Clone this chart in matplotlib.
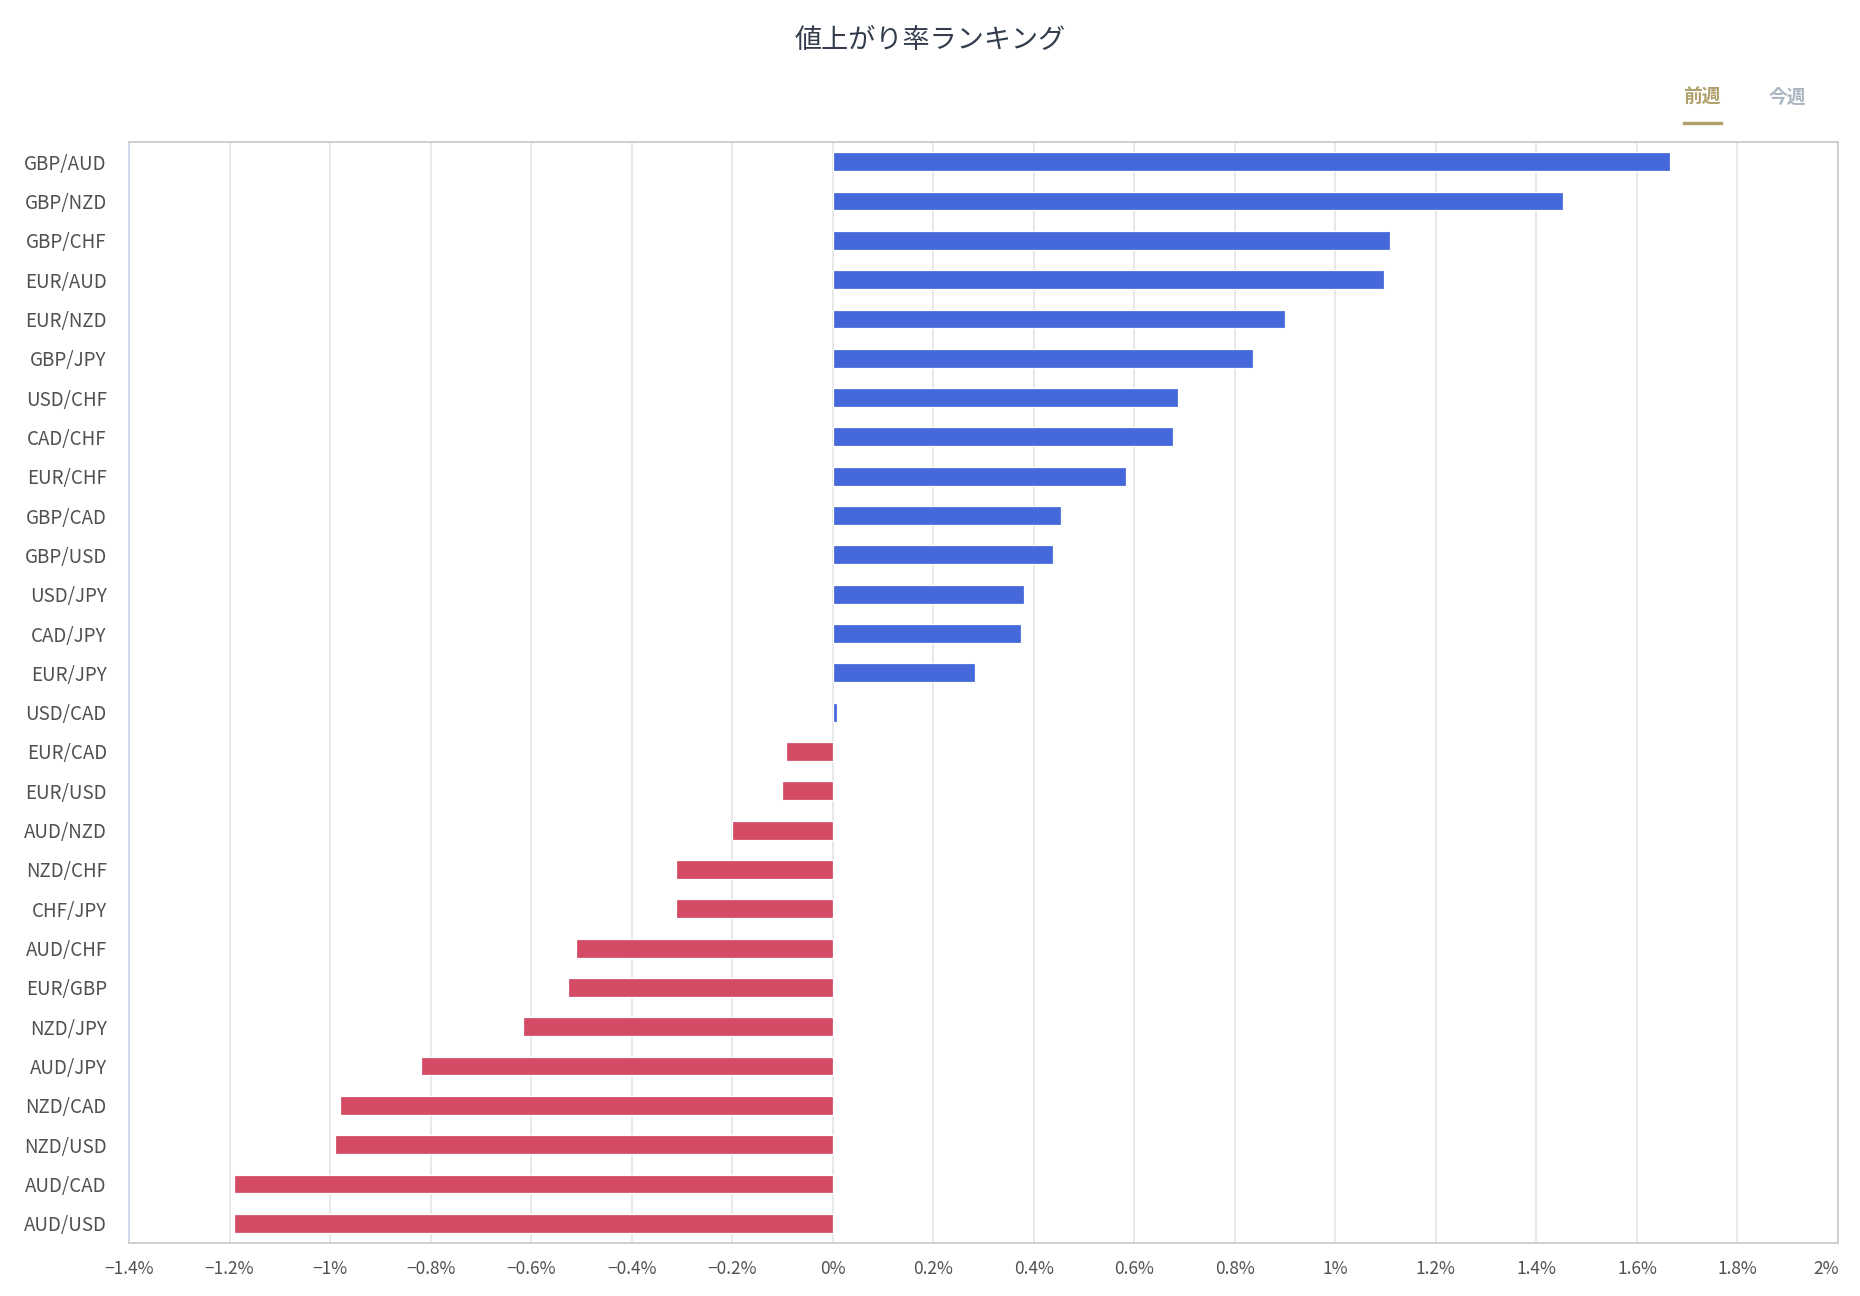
import matplotlib
matplotlib.use("Agg")
import matplotlib.pyplot as plt
import matplotlib.transforms as mtransforms
import numpy as np

plt.rcParams['font.family'] = ['Noto Sans CJK JP', 'DejaVu Sans']

title = "値上がり率ランキング"
tabs = ["前週", "今週"]

pairs = ["GBP/AUD", "GBP/NZD", "GBP/CHF", "EUR/AUD", "EUR/NZD", "GBP/JPY", "USD/CHF",
         "CAD/CHF", "EUR/CHF", "GBP/CAD", "GBP/USD", "USD/JPY", "CAD/JPY", "EUR/JPY",
         "USD/CAD", "EUR/CAD", "EUR/USD", "AUD/NZD", "NZD/CHF", "CHF/JPY", "AUD/CHF",
         "EUR/GBP", "NZD/JPY", "AUD/JPY", "NZD/CAD", "NZD/USD", "AUD/CAD", "AUD/USD"]
changes = [1.666, 1.452, 1.109, 1.097, 0.899, 0.836, 0.686,
           0.677, 0.584, 0.454, 0.438, 0.381, 0.374, 0.283,
           0.008, -0.093, -0.100, -0.201, -0.312, -0.312, -0.510,
           -0.526, -0.617, -0.819, -0.981, -0.990, -1.191, -1.191]
xticks = [-1.4, -1.2, -1.0, -0.8, -0.6, -0.4, -0.2, 0, 0.2, 0.4, 0.6, 0.8, 1.0, 1.2, 1.4, 1.6, 1.8, 2.0]

BLUE = '#4568DA'
RED = '#D34B64'

W, H = 1860, 1296
fig = plt.figure(figsize=(W / 100, H / 100), dpi=100)
l, r, t, b = 129, 1838, 142, 1243
ax = fig.add_axes([l / W, 1 - b / H, (r - l) / W, (b - t) / H])

y = np.arange(len(pairs))
colors = [BLUE if v >= 0 else RED for v in changes]
ax.barh(y, changes, height=0.48, color=colors, edgecolor='white', linewidth=0.9, zorder=3)

ax.set_ylim(len(pairs) - 0.5, -0.5)
ax.set_xlim(-1.4, 2.0)
ax.set_yticks(y)
ax.set_yticklabels(pairs)
ax.set_xticks(xticks)

def fmt(v):
    s = f"{abs(v):.1f}".rstrip('0').rstrip('.')
    if abs(v) < 1e-9:
        return "0%"
    return ("\u2212" if v < 0 else "") + s + "%"

ax.set_xticklabels([fmt(v) for v in xticks])
ax.tick_params(axis='y', length=0, pad=16, labelsize=13.5, labelcolor='#505050')
ax.tick_params(axis='x', length=0, pad=12.5, labelsize=12.5, labelcolor='#505050')

ax.grid(axis='x', color='#e6e6e6', linewidth=1.3, zorder=0)
ax.set_axisbelow(True)
for s in ['top', 'right', 'bottom']:
    ax.spines[s].set_color('#cccccc')
    ax.spines[s].set_linewidth(1.3)
ax.spines['left'].set_color('#ccd6eb')
ax.spines['left'].set_linewidth(1.3)

# keep last tick label inside canvas
lbls = ax.get_xticklabels()
off = mtransforms.ScaledTranslation(-12 / 100, 0, fig.dpi_scale_trans)
lbls[-1].set_transform(lbls[-1].get_transform() + off)

fig.text(0.5, 1 - 40 / H, title, ha='center', va='center', fontsize=19.5, color='#333d4d')

fig.text(1702 / W, 1 - 97 / H, tabs[0], ha='center', va='center', fontsize=13.5,
         fontweight='bold', color='#b0a06b')
fig.text(1787 / W, 1 - 97 / H, tabs[1], ha='center', va='center', fontsize=13.5,
         fontweight='bold', color='#a9b6c2')
fig.add_artist(plt.Line2D([1684 / W, 1721 / W], [1 - 123 / H, 1 - 123 / H],
                          transform=fig.transFigure, color='#b0a06b', linewidth=2.4))

fig.savefig('out.png', dpi=100, facecolor='white')
